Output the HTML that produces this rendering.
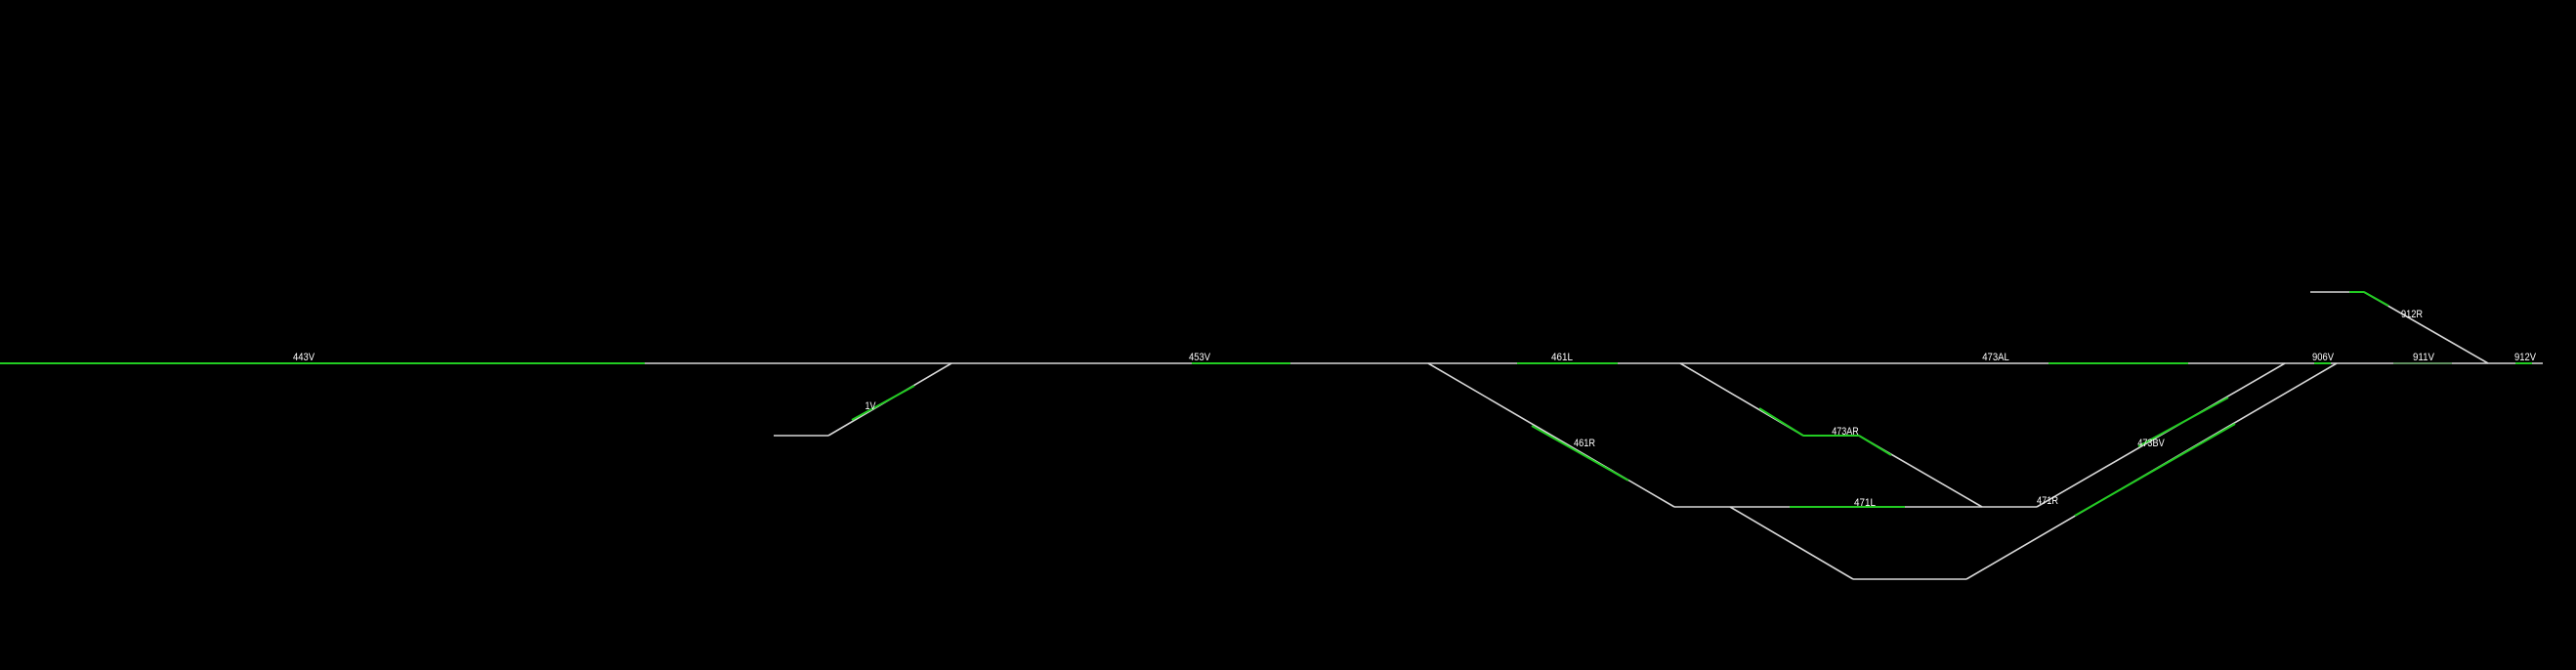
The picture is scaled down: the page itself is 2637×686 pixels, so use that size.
<!DOCTYPE html>
<html><head><meta charset="utf-8"><style>
html,body{margin:0;padding:0;background:#000;width:2637px;height:686px;overflow:hidden}
svg{display:block}
text{font-family:"Liberation Sans",sans-serif;font-size:11px;fill:#fff}
</style></head><body>
<svg id="d" width="2637" height="686" viewBox="0 0 2637 686"></svg>
<script>
// track segments: [x1,y1,x2,y2]
const whiteSegs=[[0,372,2603,372],[792,446,848,446],[848,446,974,372],[1462,372,1714,519],[1714,519,2085,519],
[1720,372,1846,446],[1846,446,1903,446],[1903,446,2029,519],[2085,519,2339,372],[1771,519,1897,593],[1897,593,2013,593],
[2013,593,2392,372],[2365,299,2420,299],[2420,299,2547,372]];
const greenSegs=[[0,372,660,372],[872,430,936,395],[1220,372,1321,372],[1553,372,1656,372],[1568,436,1667,492],
[1832,519,1950,519],[1801,418,1846,446],[1846,446,1903,446],[1903,446,1936,466],[2097,372,2240,372],
[2189,457,2281,407],[2124,528,2288,434],[2369,372,2386,372],[2405,299,2420,299],[2420,299,2445,313],[2575,372,2592,372]];
const dimSegs=[[2450,372,2510,372]];
const labels=[["443V",311,369],["1V",891,419],["453V",1228,369],["461L",1599,369],["461R",1622,457],["471L",1909,518],
["473AR",1889,445],["473AL",2043,369],["471R",2096,516],["473BV",2202,457],["906V",2378,369],["911V",2481,369],["912R",2469,325],["912V",2585,369]];
const svg=document.getElementById('d');const NS='http://www.w3.org/2000/svg';
whiteSegs.forEach(s=>{const l=document.createElementNS(NS,'line');


l.setAttribute('x1',s[0]);l.setAttribute('y1',s[1]);l.setAttribute('x2',s[2]);l.setAttribute('y2',s[3]);
l.setAttribute('stroke','#d8d8d8');l.setAttribute('stroke-width','1.6');svg.appendChild(l);});
greenSegs.forEach(s=>{const l=document.createElementNS(NS,'line');


l.setAttribute('x1',s[0]);l.setAttribute('y1',s[1]);l.setAttribute('x2',s[2]);l.setAttribute('y2',s[3]);
l.setAttribute('stroke','#22cc22');l.setAttribute('stroke-width','2');svg.appendChild(l);});
dimSegs.forEach(s=>{const l=document.createElementNS(NS,'line');


l.setAttribute('x1',s[0]);l.setAttribute('y1',s[1]);l.setAttribute('x2',s[2]);l.setAttribute('y2',s[3]);
l.setAttribute('stroke','#5a9a5a');l.setAttribute('stroke-width','1.6');svg.appendChild(l);});
labels.forEach(t=>{const e=document.createElementNS(NS,'text');


e.setAttribute('x',t[1]);e.setAttribute('y',t[2]);e.setAttribute('text-anchor','middle');
e.setAttribute('textLength',t[0].length*5.5);e.setAttribute('lengthAdjust','spacingAndGlyphs');
e.textContent=t[0];svg.appendChild(e);});
</script>
</body></html>
